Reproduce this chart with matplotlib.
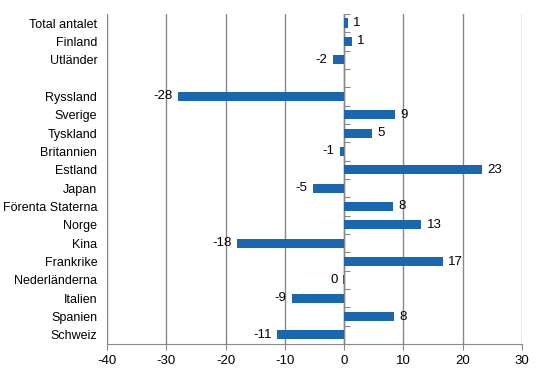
import matplotlib.pyplot as plt
import numpy as np

# categories top to bottom ('' is the gap row)
categories = ['Total antalet', 'Finland', 'Utländer', '', 'Ryssland', 'Sverige',
              'Tyskland', 'Britannien', 'Estland', 'Japan', 'Förenta Staterna',
              'Norge', 'Kina', 'Frankrike', 'Nederländerna', 'Italien',
              'Spanien', 'Schweiz']
values = [0.6, 1.3, -1.9, None, -28.0, 8.6, 4.7, -0.7, 23.2, -5.3, 8.2,
          13.0, -18.1, 16.6, -0.2, -8.8, 8.4, -11.3]
labels = ['1', '1', '-2', '', '-28', '9', '5', '-1', '23', '-5', '8',
          '13', '-18', '17', '0', '-9', '8', '-11']

plt.rcParams['font.family'] = ['Liberation Sans', 'DejaVu Sans']
plt.rcParams['font.size'] = 9
plt.rcParams['axes.unicode_minus'] = False

fig = plt.figure(figsize=(5.46, 3.76), dpi=100)
ax = fig.add_axes([0.196, 0.085, 0.760, 0.878])

n = len(categories)
y = np.arange(n)
vals = [v if v is not None else 0 for v in values]
ax.barh(y, vals, height=0.5, color='#1a67b0', zorder=3)

for yi, v, lab in zip(y, values, labels):
    if v is None:
        continue
    if v >= 0:
        ax.text(v + 0.9, yi, lab, va='center', ha='left', fontsize=9.5)
    else:
        ax.text(v - 0.9, yi, lab, va='center', ha='right', fontsize=9.5)

ax.set_xlim(-40, 30)
ax.set_ylim(n - 0.5, -0.5)
ax.set_xticks(range(-40, 31, 10))
ax.set_yticks(y)
ax.set_yticklabels(categories, fontsize=9)
ax.tick_params(axis='y', length=0, pad=7)
ax.tick_params(axis='x', length=4, color='#888888', pad=4, labelsize=9.5)

ax.grid(axis='x', color='#888888', linewidth=1, zorder=0)
for s in ['top', 'right', 'left']:
    ax.spines[s].set_visible(False)
ax.spines['bottom'].set_color('#888888')

# zero axis with category ticks
ax.axvline(0, color='#888888', linewidth=1, zorder=2)
sec = ax.secondary_yaxis(40 / 70)
sec.set_yticks(np.arange(-0.5, n, 1))
sec.set_yticklabels([])
sec.tick_params(length=4, color='#888888', direction='out')
sec.spines['left'].set_visible(False)
sec.spines['right'].set_visible(False)

fig.savefig('out.png', dpi=100)
